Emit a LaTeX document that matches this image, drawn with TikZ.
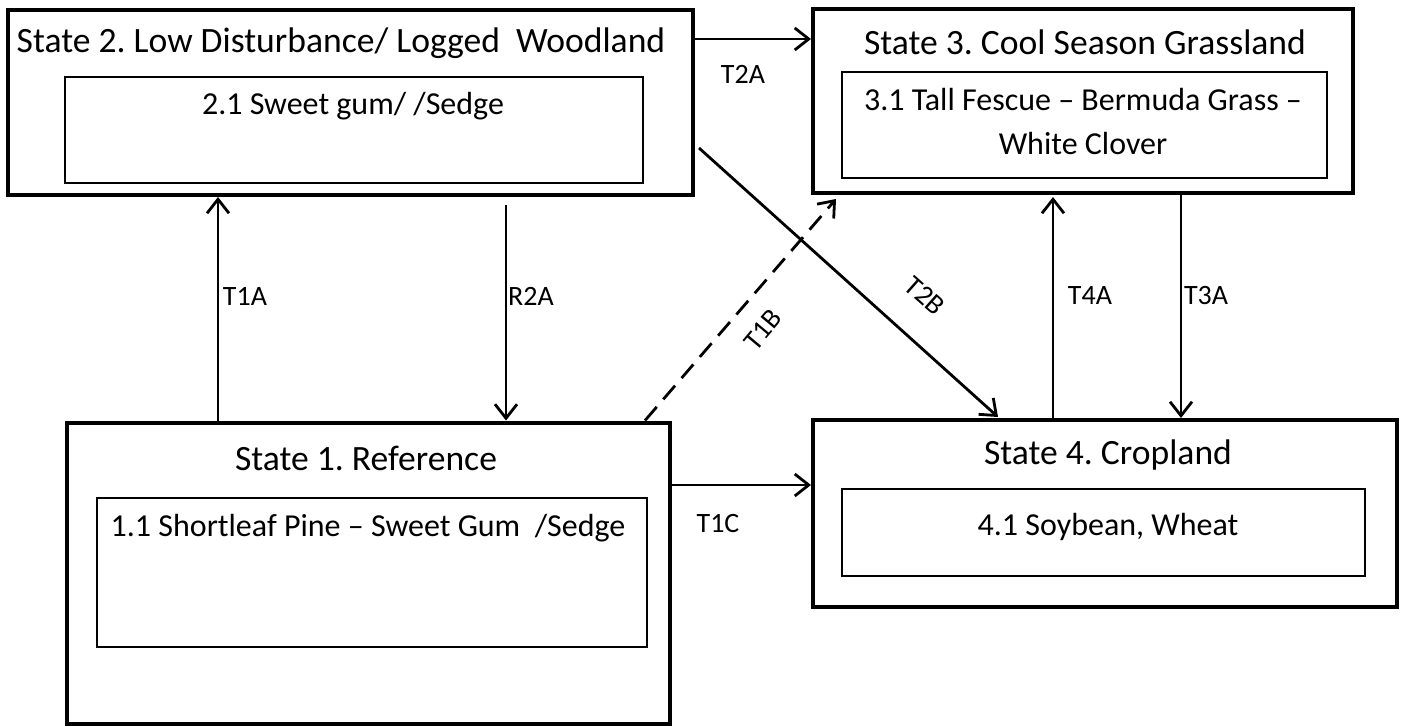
\documentclass[tikz,border=0pt]{standalone}
\usepackage{fontspec}
\setmainfont{Carlito}
\usetikzlibrary{arrows.meta,calc}
\frenchspacing
\tikzset{
  outerbox/.style={draw, line width=2pt, inner sep=0pt},
  innerbox/.style={draw, line width=1pt, inner sep=0pt},
  titletext/.style={font=\fontsize{17.8}{21}\selectfont, inner sep=0pt},
  subtext/.style={font=\fontsize{16}{20}\selectfont, inner sep=0pt, align=center},
  lbl/.style={font=\fontsize{14}{17}\selectfont, inner sep=0pt},
  conn/.style={line width=1.4pt, -{Straight Barb[length=7pt,width=11pt,line width=1.4pt]}},
  dconn/.style={conn, dash pattern=on 9pt off 5pt}
}
\begin{document}
\begin{tikzpicture}[x=0.5pt,y=-0.5pt]
\useasboundingbox (0,0) rectangle (1407,727);
\fill[white] (0,0) rectangle (1407,727);
% outer boxes
\node[outerbox, minimum width=342.5pt, minimum height=92.5pt] (s2) at (350.5,102.5) {};
\node[outerbox, minimum width=270pt, minimum height=92pt] (s3) at (1083,101) {};
\node[outerbox, minimum width=301.5pt, minimum height=150.5pt] (s1) at (368.5,573) {};
\node[outerbox, minimum width=292pt, minimum height=93.5pt] (s4) at (1105,513.5) {};
% inner boxes
\node[innerbox, minimum width=289pt, minimum height=53pt] (i2) at (354,130) {};
\node[innerbox, minimum width=242.5pt, minimum height=53pt] (i3) at (1084.5,125) {};
\node[innerbox, minimum width=275pt, minimum height=74.5pt] (i1) at (371.5,572.5) {};
\node[innerbox, minimum width=261.5pt, minimum height=43.5pt] (i4) at (1103.5,532.5) {};
% titles
\node[titletext] (t2) at (341,43) {State 2. Low Disturbance/ Logged\ \ Woodland};
\node[titletext] (t3) at (1085,42) {State 3. Cool Season Grassland};
\node[titletext] (t1) at (366,458) {State 1. Reference};
\node[titletext] (t4) at (1108,455) {State 4. Cropland};
% sub texts
\node[subtext] (u2) at (353,106) {2.1 Sweet gum/ /Sedge};
\node[subtext] (u3) at (1083,122) {3.1 Tall Fescue -- Bermuda Grass --\\[2pt]White Clover};
\node[subtext] (u1) at (368,528) {1.1 Shortleaf Pine -- Sweet Gum\ \ /Sedge};
\node[subtext] (u4) at (1108,527) {4.1 Soybean, Wheat};
% connector end points
\coordinate (c2a) at ($(s3.north west)+(0,32)$);
\coordinate (c1c) at ($(s4.north west)+(0,67)$);
\coordinate (c1a) at ($(s2.south west)+(212,0)$);
\coordinate (cr2a) at ($(s1.north west)+(441,0)$);
% connectors
\draw[conn] (s2.east |- c2a) -- (c2a);
\draw[conn] (c1a |- s1.north) -- (c1a);
\draw[conn] ($(cr2a |- s2.south)+(0,8)$) -- (cr2a);
\draw[dconn] ($(s1.north west)+(580,0)$) -- ($(s3.south west)+(25,4)$);
\draw[conn] ($(s2.north east)+(4,140)$) -- ($(s4.north west)+(187,-1)$);
\draw[conn] ($(s4.north west)+(242,0)$) -- ($(s3.south west)+(242,2)$);
\draw[conn] ($(s3.south west)+(370,0)$) -- ($(s4.north west)+(370,0)$);
\draw[conn] (s1.east |- c1c) -- (c1c);
% labels
\node[lbl] (l2a) at (743,74) {T2A};
\node[lbl] (l1a) at (245,296) {T1A};
\node[lbl] (lr2a) at (531,296) {R2A};
\node[lbl, rotate=50] (l1b) at (763,330) {T1B};
\node[lbl, rotate=-41.5] (l2b) at (925,296) {T2B};
\node[lbl] (l4a) at (1090,296) {T4A};
\node[lbl] (l3a) at (1206,296) {T3A};
\node[lbl] (l1c) at (718,524) {T1C};
\end{tikzpicture}
\end{document}
